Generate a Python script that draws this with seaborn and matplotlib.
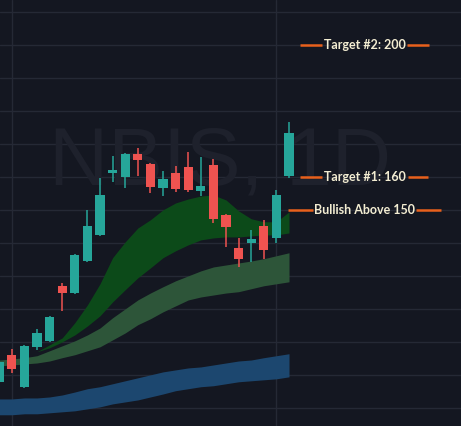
import matplotlib
matplotlib.use("Agg")
import matplotlib.pyplot as plt
from matplotlib import font_manager
import numpy as np
import seaborn as sns

# daily candles
opens = [97.9, 106.1, 96.4, 108.5, 110.3, 127.0, 124.8, 134.5, 142.4, 161.2, 160.0, 167.0,
         163.9, 156.7, 161.2, 163.0, 155.8, 163.6, 148.5, 138.5, 140.0, 145.2, 141.5, 160.3]
highs = [104.2, 107.9, 109.1, 113.9, 117.9, 127.9, 136.7, 150.0, 159.7, 166.4, 167.3, 168.8,
         164.2, 161.8, 163.3, 167.6, 166.1, 165.5, 148.8, 141.5, 143.9, 147.0, 156.1, 176.7]
lows = [97.6, 100.6, 96.1, 107.6, 110.0, 119.4, 124.5, 134.2, 142.1, 158.5, 156.7, 160.3,
        155.2, 154.2, 155.5, 155.5, 154.2, 146.1, 138.8, 132.7, 134.2, 135.2, 140.0, 159.7]
closes = [103.9, 101.8, 108.8, 112.7, 117.6, 124.8, 136.4, 145.2, 154.5, 162.1, 167.0, 165.2,
          157.0, 159.4, 156.4, 156.1, 157.3, 147.3, 144.8, 135.2, 141.2, 137.9, 154.5, 173.3]

# moving-average clouds (upper / lower edge per bar)
fast_start = 3
fast_upper = [107.0, 109.1, 111.2, 115.8, 121.2, 127.6, 135.5, 140.3, 144.5, 147.0, 150.0,
              152.1, 153.3, 154.2, 154.5, 153.0, 149.7, 147.3, 146.4, 146.4, 149.4]
fast_lower = [107.0, 108.2, 110.0, 112.1, 114.8, 117.9, 122.1, 125.8, 129.4, 132.4, 135.5,
              137.6, 139.4, 140.9, 141.5, 141.8, 141.8, 142.1, 142.4, 142.4, 143.0]
mid_upper = [104.5, 104.8, 105.2, 105.8, 107.3, 108.8, 110.3, 112.1, 114.2, 117.3, 120.0, 122.7,
             124.8, 126.7, 128.5, 130.0, 131.5, 132.7, 133.3, 133.9, 134.5, 135.2, 136.1, 137.0]
mid_lower = [102.7, 103.0, 103.3, 103.6, 104.2, 105.2, 106.1, 107.3, 108.5, 110.6, 112.7, 115.2,
             117.0, 119.1, 120.9, 122.7, 123.6, 124.2, 124.8, 125.2, 126.1, 127.0, 127.6, 128.2]
slow_upper = [92.7, 92.7, 93.0, 93.0, 93.3, 93.9, 94.8, 95.8, 96.4, 97.3, 98.2, 99.1,
              100.0, 100.9, 101.5, 102.1, 102.4, 103.0, 103.6, 104.2, 104.5, 105.2, 105.8, 106.4]
slow_lower = [87.9, 87.9, 88.2, 88.2, 88.5, 88.8, 89.1, 89.7, 90.3, 91.2, 91.8, 92.4,
              93.3, 94.2, 95.2, 95.8, 96.4, 96.7, 97.3, 97.9, 98.2, 98.5, 98.8, 99.4]

levels = [200, 160, 150]
level_labels = ["Target #2: 200", "Target #1: 160", "Bullish Above 150"]
watermark = "NBIS, 1D"

BG = "#141721"
GRID = "#252935"
UP = "#26a69a"
DOWN = "#ef5350"
ORANGE = "#e8601c"
TEXT = "#f3edd2"

sns.set_theme(style="dark", rc={
    "axes.facecolor": BG,
    "figure.facecolor": BG,
    "grid.color": GRID,
    "grid.linewidth": 1.0,
})

installed = {f.name for f in font_manager.fontManager.ttflist}
wm_font = next((f for f in ["Liberation Sans Narrow", "DejaVu Sans Condensed", "Liberation Sans"]
                if f in installed), "DejaVu Sans")
label_font = "Lato" if "Lato" in installed else "DejaVu Sans"

fig = plt.figure(figsize=(4.61, 4.26), dpi=100)
ax = fig.add_axes([0, 0, 1, 1])

x = np.arange(len(opens))
ax.set_xlim(0.063, 36.65)
ax.set_ylim(84.5, 213.6)
ax.set_yticks(np.arange(90, 211, 10))
ax.set_xticks([1, 22])
ax.grid(True, zorder=0)
ax.tick_params(length=0, labelbottom=False, labelleft=False)
for s in ax.spines.values():
    s.set_visible(False)

ax.text(17.5, 157.6, watermark, fontsize=59, color="#1e212c", family=wm_font,
        ha="center", va="baseline", zorder=1)

xf = x[fast_start:]
ax.fill_between(x, slow_lower, slow_upper, color="#1c476f", lw=0, zorder=2)
ax.fill_between(x, mid_lower, mid_upper, color="#2d5539", lw=0, zorder=2)
ax.fill_between(xf, fast_lower, fast_upper, color="#0c4a19", lw=0, zorder=2)

o, h, l, c = map(np.array, (opens, highs, lows, closes))
colors = np.where(c >= o, UP, DOWN)
ax.vlines(x, l, h, colors=colors, lw=1.1, zorder=3)
body = np.maximum(np.abs(c - o), 0.3)
ax.bar(x, body, bottom=np.minimum(o, c), width=0.72, color=colors, lw=0, zorder=4)

# level labels with orange ticks either side
gaps = [(23.87, 25.62, 32.4, 34.1), (23.87, 25.62, 32.45, 34.05), (22.92, 24.9, 33.08, 35.06)]
for lvl, txt, (a, b, cc, d) in zip(levels, level_labels, gaps):
    ax.hlines([lvl, lvl], [a, cc], [b, d], colors=ORANGE, lw=1.8, zorder=5)
    ax.text(29.0, lvl, txt, color=TEXT, fontsize=9, fontweight="bold", family=label_font,
            ha="center", va="center", zorder=5)

fig.savefig("out.png", dpi=100, facecolor=BG)
